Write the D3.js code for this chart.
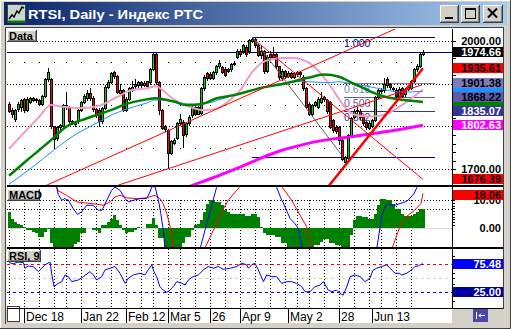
<!DOCTYPE html>
<html>
<head>
<meta charset="utf-8">
<script src="https://cdn.jsdelivr.net/npm/d3@7"></script>
<style>
  html, body { margin: 0; padding: 0; background: #d4d0c8; }
  svg { display: block; font-family: "Liberation Sans", Arial, sans-serif; }
</style>
</head>
<body>
<div id="chart"></div>
<script>
// ---------------- data (bar index 0 = Dec 11, last bar = Jul 6) ----------------
const barOpen = [1852,1838,1818,1840,1845,1863,1838,1858,1866,1862,1862,1852,1871,1910,1910,1800,1772,1799,1800,1850,
  1845,1812,1810,1812,1838,1858,1866,1878,1866,1840,1838,1812,1842,1893,1904,1926,1918,1878,1885,1838,
  1865,1885,1895,1896,1904,1896,1905,1903,1935,1970,1904,1838,1800,1792,1737,1762,1772,1807,1811,1782,
  1807,1826,1846,1830,1832,1889,1925,1923,1913,1926,1941,1938,1935,1930,1933,1946,1963,1976,1976,1985,
  1976,2000,2003,1990,1966,1975,1930,1968,1962,1968,1940,1912,1930,1918,1925,1916,1922,1926,1916,1889,
  1853,1830,1850,1846,1858,1869,1862,1857,1815,1799,1799,1768,1716,1727,1778,1822,1835,1836,1822,1810,
  1797,1800,1815,1869,1885,1884,1911,1898,1890,1886,1872,1890,1876,1887,1890,1906,1933,1941,1970];
const barHigh = [1856,1842,1840,1856,1864,1866,1868,1868,1868,1867,1865,1873,1912,1936,1912,1802,1801,1806,1853,1881,
  1848,1815,1812,1840,1860,1875,1884,1890,1870,1843,1842,1845,1896,1908,1928,1930,1920,1900,1888,1868,
  1891,1905,1910,1907,1906,1905,1907,1936,1972,1972,1906,1840,1803,1795,1768,1772,1810,1830,1815,1810,
  1826,1848,1850,1848,1892,1920,1928,1926,1930,1944,1955,1941,1938,1936,1949,1952,1980,1980,1993,1990,
  2004,2008.72,2006,1993,1990,1978,1966,1975,1985,1972,1942,1934,1932,1930,1928,1927,1930,1929,1920,1891,
  1856,1853,1860,1868,1880,1872,1865,1860,1818,1803,1801,1770,1731,1783,1823,1840,1845,1840,1826,1813,
  1812,1818,1872,1888,1890,1912,1915,1902,1893,1889,1891,1893,1890,1896,1909,1936,1945,1973,1978];
const barLow = [1833,1822,1812,1836,1835,1834,1836,1855,1859,1858,1850,1850,1869,1906,1797,1751,1768,1795,1798,1840,
  1808,1806,1800,1808,1835,1855,1862,1862,1836,1822,1800,1808,1840,1890,1902,1914,1878,1875,1835,1835,
  1862,1882,1890,1893,1892,1894,1892,1900,1932,1900,1830,1794,1790,1702,1735,1758,1770,1804,1752,1778,
  1804,1822,1826,1828,1829,1886,1908,1910,1911,1923,1937,1925,1917,1927,1930,1943,1960,1964,1972,1964,
  1972,1996,1986,1964,1959,1925,1928,1958,1958,1936,1910,1908,1912,1915,1912,1912,1918,1918,1885,1843,
  1826,1826,1847,1843,1855,1860,1832,1796,1788,1785,1760,1722,1712,1725,1776,1819,1830,1818,1804,1794,
  1794,1798,1812,1866,1878,1881,1893,1888,1884,1868,1870,1868,1872,1884,1887,1904,1930,1938,1966];
const barClose = [1837,1828,1838,1853,1861,1838,1865,1866,1862,1865,1852,1871,1910,1928,1800,1770,1799,1803,1850,1845,
  1812,1810,1806,1838,1858,1872,1878,1866,1840,1828,1812,1842,1893,1904,1924,1918,1881,1885,1838,1865,
  1889,1892,1898,1904,1896,1902,1895,1933,1968,1904,1838,1797,1795,1737,1765,1768,1807,1818,1780,1807,
  1822,1846,1830,1846,1889,1916,1912,1912,1927,1941,1947,1928,1920,1933,1946,1949,1977,1968,1990,1968,
  2001,2004,1990,1967,1975,1930,1962,1963,1970,1940,1915,1930,1918,1925,1916,1924,1926,1922,1889,1846,
  1830,1850,1857,1865,1866,1863,1835,1799,1792,1790,1768,1725,1727.72,1780,1820,1835,1838,1822,1808,1798,
  1808,1814,1869,1885,1882,1900,1896,1892,1888,1872,1888,1872,1887,1892,1906,1933,1940,1970,1974.66];

// moving averages: [bar, price]
const maPink = [[0,1748],[5,1785],[10,1822],[14,1850],[18,1846],[24,1843],[30,1848],[36,1869],[41,1885],[46,1889],
  [49,1894],[51,1886],[54,1868],[57,1855],[61,1844],[65,1838],[69,1841],[72,1852],[74,1864],[77,1884],[81,1926],
  [85,1951],[90,1959],[94,1960],[98,1955],[103,1931],[107,1895],[110,1864],[112,1844],[115,1828],[120,1823],
  [125,1827],[131,1850],[138,1886]];
const maGreen = [[0,1685],[6,1721],[14,1768],[19,1799],[26,1819],[34,1838],[39,1852],[45,1862],[49,1866],[55,1858],
  [59,1850],[64,1852],[69,1865],[75,1873],[84,1890],[92,1900],[100,1914],[105,1921],[110,1916],[114,1903],
  [118,1890],[122,1877],[126,1868],[131,1862],[138,1857]];
const maBlue = [[0,1665],[8,1706],[15,1745],[21,1776],[29,1807],[34,1826],[39,1840],[46,1855],[49,1862],[55,1858],
  [60,1852],[66,1854],[70,1862],[77,1877],[84,1889],[92,1902],[99,1905],[105,1902],[110,1904],[114,1900],
  [120,1893],[125,1886],[131,1880],[138,1882]];
const maMagenta = [[55,1640],[60,1659],[66,1675],[72,1691],[78,1708],[84,1726],[90,1742],[96,1754],[102,1764],
  [108,1771],[114,1776],[120,1782],[126,1788],[132,1795],[138,1802.63]];

// drawn trend lines: [bar, price] end points
const trendThin = [[[11.3,1659],[134,2044]], [[34.7,1659],[137.7,1897]], [[81.5,2004],[138,1676.39]]];
const trendThick = [[106,1656],[138,1935.61]];
const swingLine = [[81,2008.72],[111.5,1727.72]];

// Fibonacci retracement
const fibHigh = 2008.72, fibLow = 1727.72;
const fibLevels = [1, 0.618, 0.5, 0.382, 0];
const fibNames = ["1.000", "0.618", "0.500", "0.382", ""];

// MACD histogram (one value per bar) and its two lines [bar, value]
const macdHist = [5.7,3.0,2.1,1.5,1.0,0.4,-0.8,-0.8,-1.4,-2.0,-3.2,-3.2,-1.4,-0.3,-5.6,-7.5,-8.5,-9,-9,-8.5,
  -8,-7.5,-6,-5,-2,-2,-0.2,-0.2,-0.8,-0.8,-2,1,1,2.1,3.3,4.5,2.7,1.0,-0.8,-2,
  -1.4,-1.4,-0.8,0.2,-0.2,-0.2,1.5,1.5,3.6,1.0,-3.8,-3.8,-8,-9,-9,-8.5,-8,-7.5,-5.6,-3.2,
  -3.2,-0.8,1.0,1.5,2.7,5.7,8.7,9.9,9.9,9.3,9.3,8.1,6.3,5.7,4.9,4.9,4.8,4.8,4.8,4.2,
  4.2,4.8,4.8,3.9,0.4,-2,-2.6,-2.6,-2.6,-3.2,-3.2,-5.6,-5.6,-7.5,-8,-8.5,-9,-9,-9,-8.5,
  -8,-7.5,-6.2,-6.2,-5,-4.2,-4.2,-5.6,-5.6,-6.2,-6.2,-7.5,-8,-7.5,-2.6,2.7,4.2,4.2,3.7,3.7,
  3.3,3.3,5.1,8.1,10.5,10.5,9.9,9.9,8.7,6.9,6.9,5.1,4.2,4.2,4.2,5.1,5.7,6.9,6.9];
const macdLine = [[0,17],[14,17],[15.9,14.6],[16.4,12],[17.6,9.9],[18.6,10.5],[19.8,9.9],[21.4,6.9],[22.8,4.8],
  [24.2,5.7],[25.9,8.1],[28,8.1],[29.8,6.3],[31,6.3],[32.6,9.9],[34.2,13.5],[35.3,14.7],[37,13.5],[38.7,10.5],
  [39.8,9.3],[41.4,9.9],[43.7,10.5],[45.9,10.5],[47,12.9],[47.6,14.8],[48.7,14.8],[49.8,9.9],[50.6,5.1],
  [51.4,-0.8],[52,-7.5],[53,-12],[62,-12],[63.7,-7.5],[69.2,14.6],[70,17],[88,17],[89.2,14.6],[90.5,11],
  [92,7.5],[93.7,3.3],[95.3,1.5],[96.4,-0.2],[98,-9],[122,-9],[122.6,-7.4],[124.4,5.1],[126,8.7],[127.5,8.1],
  [128.7,8.1],[130.3,8.7],[132,9.3],[133,9.9],[135,12.3],[136,14.6],[138,18]];
const signalLine = [[0,17],[15,17],[16.4,13.3],[19.2,11.7],[22.6,9.3],[25.9,8.9],[29.2,8.5],[31.4,8.1],[33.7,9.3],
  [35.3,11.1],[37,11.7],[39.2,10.8],[42.6,10.5],[45.9,10.8],[48.7,11.7],[50.3,10.5],[51.4,8.7],[52.6,5.1],
  [53.7,0.4],[55,-9],[64,-9],[65.3,-7.4],[68.7,0.4],[70.9,5.7],[73.1,9.9],[75.9,13.5],[77,14.8],[78,17],
  [90,17],[91.1,14.6],[94.2,9.9],[96.4,5.7],[99.2,0.4],[101,-9],[127,-9],[127.7,-7.4],[130.3,0.4],
  [132.4,3.9],[135.2,6.3],[137.3,8.7],[138,12.4]];
const macdGrid = [10, 6.6];

// RSI(9) [bar, value]
const rsiLine = [[0,78],[1.4,76],[3,79],[4.8,78],[5.3,68],[6.4,72],[8,71],[9.8,62],[10.9,68],[12,74],[13.7,79],
  [14.2,59],[15,35],[16.4,41],[17.6,44],[18.7,56],[19.8,53],[20.9,44],[23.1,47],[24.8,53],[27,62],[28.1,56],
  [29.2,47],[30.9,53],[32,65],[33.7,68],[35.3,71],[37,59],[38.7,41],[39.8,50],[41.4,56],[43.7,59],[45.3,56],
  [46.4,65],[47.6,74],[48.3,62],[49.2,53],[50.3,35],[51.4,29],[52.6,25],[53.7,29],[54.8,35],[55.9,44],
  [57.6,41],[58.7,38],[59.8,47],[61.4,53],[63.1,56],[64.8,65],[66.4,71],[68.1,68],[69.8,71],[71.4,66],
  [73.7,68],[75.9,71],[77.6,77],[79.2,74],[79.8,68],[80.9,74],[82,77],[83.1,65],[84.8,44],[85.9,56],
  [87.6,53],[89.2,53],[90.9,41],[92.6,44],[94.2,44],[95.9,41],[97.6,35],[98.7,26],[100.3,26],[102,35],
  [103.7,38],[104.8,44],[106.4,29],[107.6,26],[109.2,29],[110.3,23],[111.4,20],[112.6,35],[113.7,53],
  [115.3,56],[117,53],[118.7,44],[120.3,50],[121.4,65],[122.6,68],[124.2,71],[125.9,74],[127,68],
  [128.7,59],[130,59],[130.9,56],[132.6,59],[134.2,65],[135.3,71],[136.4,72],[137.6,75.5],[138,75.48]];

// dates, weekly grid, axis ticks and labels
const dateLabels = ["Dec 18", "Jan 22", "Feb 12", "Mar 5", "26", "Apr 9", "May 2", "28", "Jun 13"];
const dateBars = [5, 24, 39, 53, 67, 77, 93, 110, 121];
const weekBars = [0,5,10,15,19,24,29,34,39,44,48,53,57,62,67,72,77,82,87,92,96,100,105,110,115,120,124,129,134];
const priceMajor = [1700, 1800, 1900, 2000];
const priceMinor = [1750, 1850, 1950];
const priceAxisLabels = [2000, 1700];

// right-hand value boxes (MA boxes are covered by the fib boxes, only strips show)
const coveredBoxes = [{ v: 1882.6, bg: "#1e90ff" }, { v: 1855.2, bg: "#008000" }];
const priceBoxes = [
  { v: 1974.66, bg: "#000000", fg: "#fff" },
  { v: 1935.61, bg: "#ff0000", fg: "#000" },
  { v: 1901.38, bg: "#7b7bbd", fg: "#000" },
  { v: 1868.22, bg: "#5c5caa", fg: "#000" },
  { v: 1835.07, bg: "#353596", fg: "#fff" },
  { v: 1802.63, bg: "#ff00ff", fg: "#fff" },
  { v: 1676.39, bg: "#ff0000", fg: "#000" }
];
const macdLast = 18.06;
const rsiBoxes = [{ v: 75.48, bg: "#0000ff" }, { v: 25.00, bg: "#0000a0" }];

// ---------------- layout ----------------
const W = 511, H = 329;
const plotL = 7, plotR = 452, axisR = 503;
const mainT = 29, mainB = 185;
const macdT = 187, macdB = 247;
const rsiT = 249, rsiB = 308;

const frameGray = "#d4d0c8";
const fibColors = ["#000080", "#7b7bbd", "#5c5caa", "#353596", "#000080"];

const x = d3.scaleLinear().domain([0, 138]).range([9, 423]);
const yP = d3.scaleLinear().domain([1700, 2000]).range([169.3, 40.7]);
const yM = d3.scaleLinear().domain([0, 10]).range([227.7, 200]);
const yR = d3.scaleLinear().domain([25, 75]).range([292.3, 264.3]);

const px = v => Math.round(v) + 0.5;

const svg = d3.select("#chart").append("svg")
  .attr("width", W).attr("height", H)
  .attr("viewBox", `0 0 ${W} ${H}`);
const defs = svg.append("defs");

function clip(id, y0, y1) {
  defs.append("clipPath").attr("id", id).append("rect")
    .attr("x", plotL).attr("y", y0).attr("width", plotR - plotL).attr("height", y1 - y0);
}
clip("cMain", mainT, mainB);
clip("cMacd", macdT, macdB);
clip("cRsi", rsiT, rsiB);

// 3D gray box (buttons / panel tags)
function bevel(x0, y0, w, h) {
  const g = svg.append("g").attr("shape-rendering", "crispEdges");
  g.append("rect").attr("x", x0).attr("y", y0).attr("width", w).attr("height", h).attr("fill", frameGray);
  g.append("path").attr("d", `M${x0 + 0.5},${y0 + h - 1}V${y0 + 0.5}H${x0 + w - 1}`).attr("stroke", "#fff").attr("fill", "none");
  g.append("path").attr("d", `M${x0},${y0 + h - 0.5}H${x0 + w - 0.5}V${y0}`).attr("stroke", "#404040").attr("fill", "none");
  g.append("path").attr("d", `M${x0 + 1},${y0 + h - 1.5}H${x0 + w - 1.5}V${y0 + 1}`).attr("stroke", "#808080").attr("fill", "none");
  return g;
}

// ---------------- window frame ----------------
svg.append("rect").attr("width", W).attr("height", H).attr("fill", frameGray);
svg.append("path").attr("d", `M0.5,${H}V0.5H${W}`).attr("stroke", "#fff").attr("fill", "none");
svg.append("path").attr("d", `M0,${H - 0.5}H${W - 0.5}V0`).attr("stroke", "#404040").attr("fill", "none");

const cap = defs.append("linearGradient").attr("id", "cap");
cap.append("stop").attr("offset", 0).attr("stop-color", "#0a246a");
cap.append("stop").attr("offset", 1).attr("stop-color", "#a6caf0");
svg.append("rect").attr("x", 4).attr("y", 2).attr("width", 503).attr("height", 23).attr("fill", "url(#cap)");

// app icon
svg.append("rect").attr("x", 7.5).attr("y", 4.5).attr("width", 18).attr("height", 18)
  .attr("fill", "#c8d8c8").attr("stroke", "#404040");
svg.append("path").attr("d", "M9,19 L12,15 L14,17 L17,11 L19,13 L22,7 L24,8")
  .attr("stroke", "#000").attr("stroke-width", 1.5).attr("fill", "none");
svg.append("path").attr("d", "M8,21.5H25").attr("stroke", "#008000").attr("stroke-width", 2);

svg.append("text").attr("x", 28).attr("y", 18.5)
  .attr("fill", "#fff").attr("font-size", "13px").attr("font-weight", "bold")
  .attr("textLength", 175).attr("lengthAdjust", "spacingAndGlyphs")
  .text("RTSI, Daily - Индекс РТС");

// caption buttons
bevel(440, 5, 19, 18);
svg.append("rect").attr("x", 445).attr("y", 17).attr("width", 8).attr("height", 2).attr("fill", "#000");
bevel(461, 5, 19, 18);
svg.append("rect").attr("x", 465.5).attr("y", 8.5).attr("width", 10).attr("height", 10)
  .attr("fill", "none").attr("stroke", "#000");
svg.append("rect").attr("x", 465).attr("y", 8).attr("width", 11).attr("height", 2).attr("fill", "#000");
bevel(483, 5, 20, 18);
svg.append("path").attr("d", "M488,8.5L497,17.5M497,8.5L488,17.5")
  .attr("stroke", "#000").attr("stroke-width", 2);

// ---------------- chart area ----------------
svg.append("rect").attr("x", 6).attr("y", 28).attr("width", axisR - 6).attr("height", rsiB - 28).attr("fill", "#fff");
svg.append("path").attr("d", `M5.5,324V27.5H${axisR + 1}`).attr("stroke", "#404040").attr("fill", "none");
svg.append("path").attr("d", `M${axisR + 0.5},28V${rsiB + 1}`).attr("stroke", "#404040");

// date strip
svg.append("rect").attr("x", 20).attr("y", rsiB + 1).attr("width", plotR - 20).attr("height", 14).attr("fill", "#fff");
svg.append("rect").attr("x", 7.5).attr("y", rsiB - 1.5).attr("width", 12).attr("height", 15)
  .attr("fill", "#fff").attr("stroke", "#404040");

// ---------------- main price panel ----------------
const gMain = svg.append("g").attr("clip-path", "url(#cMain)");

priceMajor.forEach(p => {
  gMain.append("line").attr("x1", plotL).attr("x2", plotR).attr("y1", px(yP(p))).attr("y2", px(yP(p)))
    .attr("stroke", "#000").attr("stroke-dasharray", "1,2");
});
priceMinor.forEach(p => {
  weekBars.forEach(b => {
    gMain.append("rect").attr("x", Math.round(x(b))).attr("y", Math.round(yP(p)))
      .attr("width", 1).attr("height", 1).attr("fill", "#000");
  });
});

// last price line
const lastClose = barClose[barClose.length - 1];
gMain.append("line").attr("x1", plotL).attr("x2", plotR)
  .attr("y1", px(yP(lastClose))).attr("y2", px(yP(lastClose)))
  .attr("stroke", "#000080");

// fibonacci levels
fibLevels.forEach((lv, i) => {
  const p = fibLow + lv * (fibHigh - fibLow);
  const x0 = (lv === 1 || lv === 0) ? x(81) : x(111.7);
  gMain.append("line").attr("x1", x0).attr("x2", x(142)).attr("y1", px(yP(p))).attr("y2", px(yP(p)))
    .attr("stroke", fibColors[i]);
  if (fibNames[i]) {
    gMain.append("text").attr("x", x(111.7)).attr("y", Math.round(yP(p)) + 10)
      .attr("fill", fibColors[i]).attr("font-size", "10.5px").text(fibNames[i]);
  }
});

// candles
const candles = gMain.append("g").attr("shape-rendering", "crispEdges");
barClose.forEach((c, i) => {
  const cx = Math.round(x(i));
  const o = barOpen[i];
  candles.append("line").attr("x1", cx + 0.5).attr("x2", cx + 0.5)
    .attr("y1", Math.round(yP(barHigh[i]))).attr("y2", Math.round(yP(barLow[i])) + 1)
    .attr("stroke", "#000");
  const top = Math.round(yP(Math.max(o, c))), bot = Math.round(yP(Math.min(o, c)));
  candles.append("rect").attr("x", cx - 0.5).attr("y", top + 0.5)
    .attr("width", 2).attr("height", Math.max(1, bot - top))
    .attr("fill", c >= o ? "#00d800" : "#ff0000").attr("stroke", "#000");
});

// moving averages
const maLine = d3.line().x(d => x(d[0])).y(d => yP(d[1])).curve(d3.curveMonotoneX);
gMain.append("path").attr("d", maLine(maPink)).attr("fill", "none").attr("stroke", "#f49ac4").attr("stroke-width", 2);
gMain.append("path").attr("d", maLine(maBlue)).attr("fill", "none").attr("stroke", "#1e90ff").attr("stroke-width", 1);
gMain.append("path").attr("d", maLine(maGreen)).attr("fill", "none").attr("stroke", "#008000").attr("stroke-width", 2.5);
gMain.append("path").attr("d", maLine(maMagenta)).attr("fill", "none").attr("stroke", "#ff00ff").attr("stroke-width", 3);

// trend lines
const seg = d3.line().x(d => x(d[0])).y(d => yP(d[1]));
gMain.append("path").attr("d", seg(swingLine)).attr("stroke", "#606060").attr("fill", "none");
trendThin.forEach(t => {
  gMain.append("path").attr("d", seg(t)).attr("stroke", "#ff0000").attr("fill", "none");
});
gMain.append("path").attr("d", seg(trendThick)).attr("stroke", "#ff0000").attr("stroke-width", 2.5).attr("fill", "none");

// ---------------- MACD panel ----------------
const gMacd = svg.append("g").attr("clip-path", "url(#cMacd)");
gMacd.append("line").attr("x1", plotL).attr("x2", plotR).attr("y1", px(yM(0))).attr("y2", px(yM(0)))
  .attr("stroke", "#d8d8d8");
macdGrid.forEach(v => {
  gMacd.append("line").attr("x1", plotL).attr("x2", plotR).attr("y1", px(yM(v))).attr("y2", px(yM(v)))
    .attr("stroke", "#000").attr("stroke-dasharray", "1,2");
});
weekBars.forEach(b => {
  gMacd.append("line").attr("x1", px(x(b))).attr("x2", px(x(b))).attr("y1", yM(d3.max(macdGrid))).attr("y2", macdB)
    .attr("stroke", "#000").attr("stroke-dasharray", "1,2");
});
// histogram as one stepped area so neighbouring bars join up
const histArea = d3.area()
  .x(d => Math.round(x(d[0])) - 1)
  .y0(Math.round(yM(0)))
  .y1(d => Math.round(yM(d[1])))
  .curve(d3.curveStepAfter);
const histPts = macdHist.map((v, i) => [i, v]);
histPts.push([macdHist.length, macdHist[macdHist.length - 1]]);
gMacd.append("path").attr("d", histArea(histPts)).attr("fill", "#008000").attr("shape-rendering", "crispEdges");

const macdPath = d3.line().x(d => x(d[0])).y(d => yM(d[1]));
gMacd.append("path").attr("d", macdPath(signalLine)).attr("stroke", "#ff0000").attr("fill", "none");
gMacd.append("path").attr("d", macdPath(macdLine)).attr("stroke", "#0000ff").attr("fill", "none");

// ---------------- RSI panel ----------------
const gRsi = svg.append("g").attr("clip-path", "url(#cRsi)");
weekBars.forEach(b => {
  gRsi.append("line").attr("x1", px(x(b))).attr("x2", px(x(b))).attr("y1", rsiT).attr("y2", rsiB)
    .attr("stroke", "#000").attr("stroke-dasharray", "1,2");
});
gRsi.append("line").attr("x1", plotL).attr("x2", plotR).attr("y1", px(yR(50))).attr("y2", px(yR(50)))
  .attr("stroke", "#d0d0d0").attr("stroke-dasharray", "3,3");
gRsi.append("line").attr("x1", plotL).attr("x2", plotR).attr("y1", px(yR(75))).attr("y2", px(yR(75)))
  .attr("stroke", "#ff0000").attr("stroke-dasharray", "3,3");
gRsi.append("line").attr("x1", plotL).attr("x2", plotR).attr("y1", px(yR(25))).attr("y2", px(yR(25)))
  .attr("stroke", "#0000ff").attr("stroke-dasharray", "3,3");
gRsi.append("path").attr("d", d3.line().x(d => x(d[0])).y(d => yR(d[1]))(rsiLine))
  .attr("stroke", "#0000ff").attr("fill", "none");

// ---------------- separators ----------------
svg.append("rect").attr("x", plotL).attr("y", mainB).attr("width", axisR - plotL).attr("height", 2).attr("fill", "#000");
svg.append("rect").attr("x", plotL).attr("y", macdB).attr("width", axisR - plotL).attr("height", 2).attr("fill", "#000");
svg.append("rect").attr("x", plotL).attr("y", rsiB).attr("width", axisR - plotL).attr("height", 1).attr("fill", "#000");
svg.append("line").attr("x1", plotR + 0.5).attr("x2", plotR + 0.5).attr("y1", mainT).attr("y2", rsiB)
  .attr("stroke", "#000");

// ---------------- right axis ----------------
const axisTicks = svg.append("g").attr("stroke", "#000").attr("shape-rendering", "crispEdges");
d3.range(1700, 2001, 20).forEach(p => {
  axisTicks.append("line").attr("x1", plotR).attr("x2", plotR + 4).attr("y1", px(yP(p))).attr("y2", px(yP(p)));
});
d3.range(1, 11).forEach(v => {
  axisTicks.append("line").attr("x1", plotR).attr("x2", plotR + 3).attr("y1", px(yM(v))).attr("y2", px(yM(v)));
});
d3.range(10, 100, 10).forEach(v => {
  axisTicks.append("line").attr("x1", plotR).attr("x2", plotR + 3).attr("y1", px(yR(v))).attr("y2", px(yR(v)));
});

function axisText(yc, txt, fill) {
  svg.append("text").attr("x", axisR - 2).attr("y", Math.round(yc) + 4)
    .attr("text-anchor", "end").attr("font-size", "11px").attr("font-weight", "bold")
    .attr("fill", fill || "#000").text(txt);
}
function valueBox(yc, txt, bg, fg) {
  const top = Math.round(yc - 5);
  svg.append("rect").attr("x", plotR + 1).attr("y", top).attr("width", axisR - plotR - 1).attr("height", 10)
    .attr("fill", bg);
  if (txt) {
    svg.append("text").attr("x", axisR - 2).attr("y", top + 9)
      .attr("text-anchor", "end").attr("font-size", "11px").attr("font-weight", "bold")
      .attr("fill", fg).text(txt);
  }
}

priceAxisLabels.forEach(p => axisText(yP(p), d3.format(".2f")(p)));
coveredBoxes.forEach(b => valueBox(yP(b.v), null, b.bg));
priceBoxes.forEach(b => valueBox(yP(b.v), d3.format(".2f")(b.v), b.bg, b.fg));

axisText(yM(10), "10.00");
axisText(yM(0), "0.00");
valueBox(Math.max(yM(macdLast), macdT + 7.5), d3.format(".2f")(macdLast), "#ff0000", "#000");

rsiBoxes.forEach(b => valueBox(yR(b.v), d3.format(".2f")(b.v), b.bg, "#fff"));

// ---------------- panel tags ----------------
[["Data", mainT + 1, 30], ["MACD", macdT + 2, 33], ["RSI, 9", rsiT + 1, 34]].forEach(([t, y0, w]) => {
  bevel(plotL, y0, w, 12);
  svg.append("text").attr("x", plotL + 2).attr("y", y0 + 10)
    .attr("font-size", "11px").attr("font-weight", "bold").attr("fill", "#000").text(t);
});

// ---------------- date axis ----------------
dateBars.forEach((b, i) => {
  svg.append("line").attr("x1", px(x(b))).attr("x2", px(x(b))).attr("y1", rsiB).attr("y2", rsiB + 15)
    .attr("stroke", "#000");
  svg.append("text").attr("x", Math.round(x(b)) + 2).attr("y", rsiB + 13)
    .attr("font-size", "12px").attr("fill", "#000").text(dateLabels[i]);
});

// scroll-to-end button
svg.append("rect").attr("x", 473).attr("y", 309).attr("width", 15).attr("height", 13).attr("fill", "#4848a8");
svg.append("path").attr("d", "M476.5,312V319M485,315.5H479M481,313.5L479,315.5L481,317.5")
  .attr("stroke", "#fff").attr("fill", "none");
</script>
</body>
</html>
